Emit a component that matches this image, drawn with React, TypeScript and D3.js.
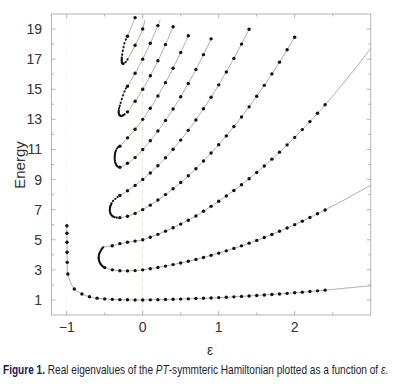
import React, { useLayoutEffect, useRef, useState } from 'react'
import * as d3 from 'd3'

// PT-symmetric Hamiltonian: real eigenvalues vs epsilon
const WIDTH = 413
const HEIGHT = 389

const xTicks = [-1, 0, 1, 2]
const xMinor = [-0.5, 0.5, 1.5, 2.5]
const yTicks = [1, 3, 5, 7, 9, 11, 13, 15, 17, 19]
const yMinor = [2, 4, 6, 8, 10, 12, 14, 16, 18]

// [epsilon, energy]
const ground = [
  [-0.998, 5.93], [-0.997, 5.43], [-0.996, 4.83], [-0.995, 4.17], [-0.993, 3.5], [-0.985, 2.72],
  [-0.9, 1.73], [-0.8, 1.4], [-0.7, 1.21], [-0.6, 1.12], [-0.5, 1.07], [-0.4, 1.04], [-0.3, 1.02],
  [-0.2, 1.01], [-0.1, 1.0], [0, 1.0], [0.1, 1.008], [0.2, 1.018], [0.3, 1.03], [0.4, 1.043],
  [0.5, 1.058], [0.6, 1.074], [0.7, 1.092], [0.8, 1.112], [0.9, 1.133], [1.0, 1.156], [1.1, 1.181],
  [1.2, 1.207], [1.3, 1.235], [1.4, 1.265], [1.5, 1.296], [1.6, 1.329], [1.7, 1.364], [1.8, 1.4],
  [1.9, 1.438], [2.0, 1.477], [2.1, 1.518], [2.2, 1.561], [2.3, 1.606], [2.4, 1.652]
]
const groundTail = [[2.7, 1.8], [3.0, 1.94]]

const level2 = [
  [-0.5, 3.15], [-0.4, 3.0], [-0.3, 2.94], [-0.2, 2.93], [-0.1, 2.95], [0, 3.0], [0.1, 3.076],
  [0.2, 3.159], [0.3, 3.25], [0.4, 3.349], [0.5, 3.456], [0.6, 3.571], [0.7, 3.694], [0.8, 3.825],
  [0.9, 3.963], [1.0, 4.109], [1.1, 4.263], [1.2, 4.425], [1.3, 4.595], [1.4, 4.773], [1.5, 4.958],
  [1.6, 5.152], [1.7, 5.353], [1.8, 5.562], [1.9, 5.779], [2.0, 6.003], [2.1, 6.236], [2.2, 6.476],
  [2.3, 6.725], [2.4, 6.981]
]
const level2Tail = [[2.7, 7.78], [3.0, 8.62]]
const loop23 = [
  [-0.52, 3.2], [-0.53, 3.25], [-0.54, 3.3], [-0.549, 3.36], [-0.557, 3.42], [-0.564, 3.48],
  [-0.57, 3.55], [-0.574, 3.61], [-0.577, 3.68], [-0.579, 3.74], [-0.58, 3.8], [-0.579, 3.87],
  [-0.578, 3.93], [-0.575, 4.0], [-0.571, 4.07], [-0.565, 4.14], [-0.558, 4.22], [-0.55, 4.3],
  [-0.54, 4.38], [-0.53, 4.44], [-0.52, 4.5]
]
const level3 = [
  [-0.4, 4.6], [-0.3, 4.74], [-0.2, 4.83], [-0.1, 4.91], [0, 5.0], [0.1, 5.17], [0.2, 5.36],
  [0.3, 5.57], [0.4, 5.8], [0.5, 6.04], [0.6, 6.3], [0.7, 6.58], [0.8, 6.89], [0.9, 7.22],
  [1.0, 7.562], [1.1, 7.911], [1.2, 8.276], [1.3, 8.658], [1.4, 9.057], [1.5, 9.472], [1.6, 9.905],
  [1.7, 10.354], [1.8, 10.82], [1.9, 11.302], [2.0, 11.802], [2.1, 12.318], [2.2, 12.851],
  [2.3, 13.401], [2.4, 13.968]
]
const level3Tail = [[2.6, 15.15], [2.8, 16.4], [3.0, 17.72]]

const level4 = [
  [-0.3, 6.47], [-0.2, 6.56], [-0.1, 6.75], [0, 7.0], [0.1, 7.3], [0.2, 7.64], [0.3, 8.0],
  [0.4, 8.39], [0.5, 8.8], [0.6, 9.25], [0.7, 9.72], [0.8, 10.23], [0.9, 10.76], [1.0, 11.314],
  [1.1, 11.9], [1.2, 12.52], [1.3, 13.16], [1.4, 13.83], [1.5, 14.53], [1.6, 15.26], [1.7, 16.02],
  [1.8, 16.8], [1.9, 17.62], [2.0, 18.459]
]
const loop45 = [
  [-0.34, 6.47], [-0.37, 6.5], [-0.39, 6.54], [-0.4, 6.58], [-0.412, 6.64], [-0.42, 6.7],
  [-0.426, 6.77], [-0.43, 6.84], [-0.432, 6.91], [-0.433, 6.98], [-0.432, 7.05], [-0.43, 7.12],
  [-0.427, 7.2], [-0.422, 7.27], [-0.416, 7.35], [-0.41, 7.42], [-0.39, 7.58], [-0.36, 7.72],
  [-0.33, 7.84]
]
const level5 = [
  [-0.3, 7.94], [-0.2, 8.26], [-0.1, 8.61], [0, 9.0], [0.1, 9.44], [0.2, 9.92], [0.3, 10.45],
  [0.4, 11.01], [0.5, 11.62], [0.6, 12.27], [0.7, 12.96], [0.8, 13.7], [0.9, 14.47], [1.0, 15.292],
  [1.1, 16.15], [1.2, 17.05], [1.3, 18.0], [1.4, 18.99]
]

const level6 = [
  [-0.3, 9.82], [-0.2, 10.08], [-0.1, 10.46], [0, 11.0], [0.1, 11.58], [0.2, 12.23], [0.3, 12.93],
  [0.4, 13.69], [0.5, 14.5], [0.6, 15.38], [0.7, 16.31], [0.8, 17.3], [0.9, 18.35]
]
const loop67 = [
  [-0.33, 9.86], [-0.34, 9.91], [-0.35, 9.98], [-0.357, 10.06], [-0.362, 10.15], [-0.366, 10.25],
  [-0.368, 10.35], [-0.369, 10.45], [-0.368, 10.55], [-0.366, 10.65], [-0.363, 10.75],
  [-0.358, 10.84], [-0.353, 10.93], [-0.34, 11.06], [-0.322, 11.15]
]
const level7 = [
  [-0.3, 11.22], [-0.2, 11.77], [-0.1, 12.34], [0, 13.0], [0.1, 13.74], [0.2, 14.55], [0.3, 15.44],
  [0.4, 16.4], [0.5, 17.44], [0.6, 18.55]
]

const level8 = [[-0.2, 13.5], [-0.1, 14.2], [0, 15.0], [0.1, 15.9], [0.2, 16.89], [0.3, 17.97], [0.4, 19.15]]
const loop89 = [
  [-0.24, 13.33], [-0.255, 13.28], [-0.27, 13.24], [-0.283, 13.23], [-0.295, 13.24], [-0.304, 13.27],
  [-0.31, 13.32], [-0.314, 13.38], [-0.316, 13.45], [-0.316, 13.52], [-0.315, 13.6], [-0.31, 13.75],
  [-0.302, 13.9], [-0.29, 14.1], [-0.275, 14.35], [-0.258, 14.6], [-0.24, 14.85], [-0.222, 15.05]
]
const level9 = [[-0.2, 15.2], [-0.1, 16.06], [0, 17.0], [0.1, 18.06], [0.2, 19.23]]
const level9Tail = [[0.23, 19.6]]

const level10 = [[-0.1, 17.92], [0, 19.0]]
const level10Tail = [[0.03, 19.6]]
const loop1011 = [
  [-0.2, 16.98], [-0.225, 16.8], [-0.25, 16.7], [-0.258, 16.68], [-0.265, 16.7], [-0.27, 16.74],
  [-0.274, 16.8], [-0.276, 16.87], [-0.277, 16.95], [-0.276, 17.02], [-0.275, 17.1], [-0.27, 17.3],
  [-0.262, 17.55], [-0.252, 17.8], [-0.24, 18.05], [-0.222, 18.3]
]
const level11 = [[-0.2, 18.52], [-0.1, 19.76]]

const rev = (a: number[][]) => [...a].reverse()

const curves = [
  [...ground, ...groundTail],
  [...rev(level2Tail), ...rev(level2), ...loop23, ...level3, ...level3Tail],
  [...rev(level4), ...loop45, ...level5],
  [...rev(level6), ...loop67, ...level7],
  [...rev(level8), ...loop89, ...level9, ...level9Tail],
  [...rev(level10Tail), ...rev(level10), ...loop1011, ...level11]
]
const bigDots = [ground, level2, level3, level4, level5, level6, level7, level8, level9, level10, level11].flat()
const smallDots = [loop23, loop45, loop67, loop89, loop1011].flat()

const x = d3.scaleLinear().domain([-1.2, 3]).range([51.5, 370.7])
const y = d3.scaleLinear().domain([0, 20]).range([315, 14])

const line = d3
  .line<number[]>()
  .x(d => x(d[0]))
  .y(d => y(d[1]))
  .curve(d3.curveCatmullRom.alpha(0.5))

const tickFont = "'Liberation Sans Narrow', 'Liberation Sans', Arial, sans-serif"
const frame = '#b4b4b4'
const CAPTION_WIDTH = 385

export default function App() {
  const [x0, x1] = x.range()
  const [y0, y1] = y.range()
  const capRef = useRef<SVGTextElement>(null)
  const [capScale, setCapScale] = useState(0.75)

  // squeeze the caption so it spans the same width as in the figure
  useLayoutEffect(() => {
    if (capRef.current) {
      const w = capRef.current.getComputedTextLength()
      if (w > 0) setCapScale(CAPTION_WIDTH / w)
    }
  }, [])

  return (
    <svg
      width={WIDTH}
      height={HEIGHT}
      style={{ position: 'absolute', left: 0, top: 0, background: '#fff' }}
    >
      {/* grid lines at eps = -1 and 0 */}
      <line x1={x(-1)} x2={x(-1)} y1={y0} y2={y1} stroke="#e4e4e4" strokeWidth={0.8} strokeDasharray="1.5 2" />
      <line x1={x(0)} x2={x(0)} y1={y0} y2={y1} stroke="#e3dcbc" strokeWidth={0.8} strokeDasharray="5 3" />

      {/* frame */}
      <rect x={x0} y={y1} width={x1 - x0} height={y0 - y1} fill="none" stroke={frame} strokeWidth={1} />

      {/* ticks */}
      {xTicks.map(t => (
        <g key={'xt' + t} stroke={frame}>
          <line x1={x(t)} x2={x(t)} y1={y0} y2={y0 - 4} />
          <line x1={x(t)} x2={x(t)} y1={y1} y2={y1 + 4} />
        </g>
      ))}
      {xMinor.map(t => (
        <g key={'xm' + t} stroke={frame}>
          <line x1={x(t)} x2={x(t)} y1={y0} y2={y0 - 2.5} />
          <line x1={x(t)} x2={x(t)} y1={y1} y2={y1 + 2.5} />
        </g>
      ))}
      {yTicks.map(t => (
        <g key={'yt' + t} stroke={frame}>
          <line x1={x0} x2={x0 + 4} y1={y(t)} y2={y(t)} />
          <line x1={x1} x2={x1 - 4} y1={y(t)} y2={y(t)} />
        </g>
      ))}
      {yMinor.map(t => (
        <g key={'ym' + t} stroke={frame}>
          <line x1={x0} x2={x0 + 2.5} y1={y(t)} y2={y(t)} />
          <line x1={x1} x2={x1 - 2.5} y1={y(t)} y2={y(t)} />
        </g>
      ))}

      {/* tick labels */}
      {xTicks.map(t => (
        <text key={'xl' + t} x={x(t)} y={332} textAnchor="middle" fontFamily={tickFont} fontSize={14} fill="#333">
          {t < 0 ? '\u2212' + Math.abs(t) : t}
        </text>
      ))}
      {yTicks.map(t => (
        <text key={'yl' + t} x={42} y={y(t) + 5} textAnchor="end" fontFamily={tickFont} fontSize={14} fill="#333">
          {t}
        </text>
      ))}

      {/* axis titles */}
      <text
        transform="translate(25,165) rotate(-90)"
        textAnchor="middle"
        fontFamily={tickFont}
        fontSize={15}
        fill="#333"
      >
        Energy
      </text>
      <text x={210} y={355} textAnchor="middle" fontFamily={tickFont} fontSize={14} fill="#333">
        ε
      </text>

      {/* curves */}
      {curves.map((c, i) => (
        <path key={'c' + i} d={line(c) || ''} fill="none" stroke="#8c8c8c" strokeWidth={0.7} />
      ))}
      {smallDots.map((d, i) => (
        <circle key={'s' + i} cx={x(d[0])} cy={y(d[1])} r={1.1} fill="#111" />
      ))}
      {bigDots.map((d, i) => (
        <circle key={'b' + i} cx={x(d[0])} cy={y(d[1])} r={1.7} fill="#111" />
      ))}

      {/* caption */}
      <g transform={`translate(3,374) scale(${capScale},1)`}>
        <text ref={capRef} x={0} y={0} fontFamily={tickFont} fontSize={12.5} fill="#1d1d2e">
          <tspan fontWeight="bold" fill="#16205a">Figure 1.</tspan>
          <tspan> Real eigenvalues of the </tspan>
          <tspan fontStyle="italic">PT</tspan>
          <tspan>-symmteric Hamiltonian plotted as a function of </tspan>
          <tspan fontStyle="italic">ε</tspan>
          <tspan>.</tspan>
        </text>
      </g>
    </svg>
  )
}
